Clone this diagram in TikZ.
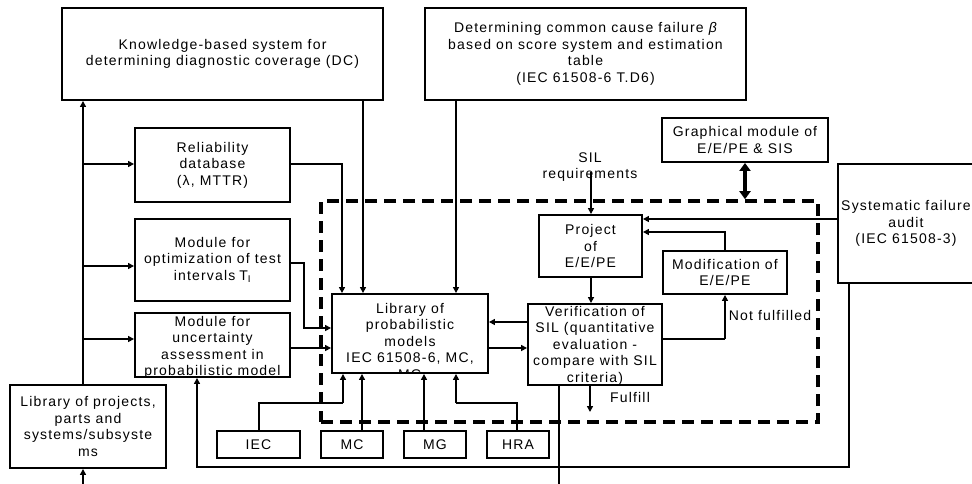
\documentclass[tikz,border=0pt]{standalone}
\usepackage{fontspec}
\setmainfont{Liberation Sans}[LetterSpace=8.5]
\usetikzlibrary{arrows.meta}
\tikzset{
 box/.style={draw, line width=1.9pt, inner sep=0pt, align=center, font=\fontsize{14}{16.5}\selectfont},
 txt/.style={inner sep=0pt, align=center, font=\fontsize{14}{16.5}\selectfont},
 arr/.style={-{Triangle[length=6pt,width=6pt]}},
 thn/.style={line width=1.2pt},
 med/.style={line width=2pt},
 thk/.style={line width=2.9pt},
 dbox/.style={draw, line width=3.6pt, dash pattern=on 12pt off 7pt, inner sep=0pt},
}
\begin{document}
\begin{tikzpicture}[x=1pt,y=-1pt]
\useasboundingbox (0,0) rectangle (972,483);
% group
\node[dbox, minimum width=497pt, minimum height=221pt] (grp) at (569.5,311.5) {};
% boxes
\node[box, minimum width=321pt, minimum height=92pt] (know) at (222.5,54) {Knowledge-based system for\\determining diagnostic coverage (DC)};
\node[box, minimum width=321pt, minimum height=92pt] (det) at (585.5,54) {Determining common cause failure {\itshape β}\\based on score system and estimation\\table\\(IEC 61508-6 T.D6)};
\node[box, minimum width=155pt, minimum height=74pt] (rel) at (212.5,165) {Reliability\\database\\(λ, MTTR)};
\node[box, minimum width=155pt, minimum height=82pt] (opt) at (212.5,260) {Module for\\optimization of test\\intervals\hspace{4pt}T\textsubscript{I}};
\node[box, minimum width=155pt, minimum height=64pt] (unc) at (212.5,345) {};
\begin{scope}
\clip (unc.south west) rectangle (unc.north east);
\node[txt] (unct) at (212.5,347.5) {Module for\\uncertainty\\assessment in\\probabilistic model};
\end{scope}
\node[box, minimum width=156pt, minimum height=83pt] (lproj) at (88,426.5) {Library of projects,\\parts and\\systems/subsyste\\ms};
\node[box, minimum width=156pt, minimum height=79pt] (lprob) at (410,333.5) {};
\begin{scope}
\clip (lprob.south west) rectangle (lprob.north east);
\node[txt] (lprobt) at (410,341) {Library of\\probabilistic\\models\\IEC 61508-6, MC,\\MG};
\end{scope}
\node[box, minimum width=134pt, minimum height=81pt] (ver) at (595,344.5) {};
\begin{scope}
\clip (ver.south west) rectangle (ver.north east);
\node[txt] (vert) at (595,345.6) {Verification of\\SIL (quantitative\\evaluation -\\compare with SIL\\criteria)};
\end{scope}
\node[box, minimum width=103pt, minimum height=62pt] (proj) at (590.5,246) {Project\\of\\E/E/PE};
\node[box, minimum width=124pt, minimum height=43pt] (mod) at (725,272.5) {Modification of\\E/E/PE};
\node[box, minimum width=166pt, minimum height=44pt] (graph) at (745,140) {Graphical module of\\E/E/PE \& SIS};
\node[box, minimum width=136pt, minimum height=119pt] (sys) at (906,223.5) {Systematic failure\\audit\\(IEC 61508-3)};
\node[box, minimum width=83pt, minimum height=27pt] (iec) at (258.5,444.5) {IEC};
\node[box, minimum width=62pt, minimum height=27pt] (mc) at (352,444.5) {MC};
\node[box, minimum width=62pt, minimum height=27pt] (mg) at (435,444.5) {MG};
\node[box, minimum width=62pt, minimum height=27pt] (hra) at (518,444.5) {HRA};
% labels
\node[txt] (sil) at (590,167) {SIL\\requirements};
\node[txt] (nf) at (770,315) {Not fulfilled};
\node[txt] (ff) at (630,397) {Fulfill};
% left bus
\draw[thk,arr] (lproj.north -| 83,0) -- (know.south -| 83,0);
\draw[thk,arr] (83,490) -- (lproj.south -| 83,0);
\coordinate (b1) at (83,164);
\coordinate (b2) at (83,266);
\coordinate (b3) at (83,339);
\draw[med,arr] (b1) -- (rel.west |- b1);
\draw[med,arr] (b2) -- (opt.west |- b2);
\draw[med,arr] (b3) -- (unc.west |- b3);
% into library of probabilistic models
\draw[med,arr] (rel.east |- 0,164) -| (lprob.north -| 342,0);
\draw[med,arr] (know.south -| 363,0) -- (lprob.north -| 363,0);
\draw[med,arr] (det.south -| 456,0) -- (lprob.north -| 456,0);
\draw[thk,arr] (opt.east |- 0,263) -- (304,263) |- (lprob.west |- 0,328);
\draw[med,arr] (unc.east |- 0,348) -- (lprob.west |- 0,348);
\coordinate (ic) at (343,403);
\draw[thn] (iec.north -| 259,0) |- (ic);
\draw[thk,arr] (ic) -- (lprob.south -| ic);
\draw[med,arr] (mc.north -| 362,0) -- (lprob.south -| 362,0);
\draw[thk,arr] (mg.north -| 424,0) -- (lprob.south -| 424,0);
\coordinate (hc) at (456,403);
\draw[line width=1.5pt] (hra.north -| 517,0) |- (hc);
\draw[thk,arr] (hc) -- (lprob.south -| hc);
% SIL chain
\draw[med,arr] (591,172) -- (proj.north -| 591,0);
\draw[med,arr] (proj.south -| 591,0) -- (ver.north -| 591,0);
\draw[thk,arr] (ver.west |- 0,322) -- (lprob.east |- 0,322);
\draw[med,arr] (lprob.east |- 0,348) -- (ver.west |- 0,348);
\draw[thk,arr] (sys.west |- 0,219) -- (proj.east |- 0,219);
\draw[med,arr] (mod.north) |- (proj.east |- 0,232);
\coordinate (vm) at (725,339);
\draw[line width=1.5pt] (ver.east |- vm) -- (vm);
\draw[thk,arr] (vm) -- (mod.south);
\draw[line width=4pt, {Triangle[length=8pt,width=11pt]}-{Triangle[length=8pt,width=11pt]}] (graph.south) -- (graph.south |- grp.north);
\draw[med,arr] (ver.south -| 590,0) -- (590,412);
\draw[thn] (ver.south -| 559,0) -- (559,490);
\draw[line width=1.5pt,arr] (sys.south -| 849,0) -- (849,467) -- (197,467) -- (unc.south -| 197,0);
\end{tikzpicture}
\end{document}
